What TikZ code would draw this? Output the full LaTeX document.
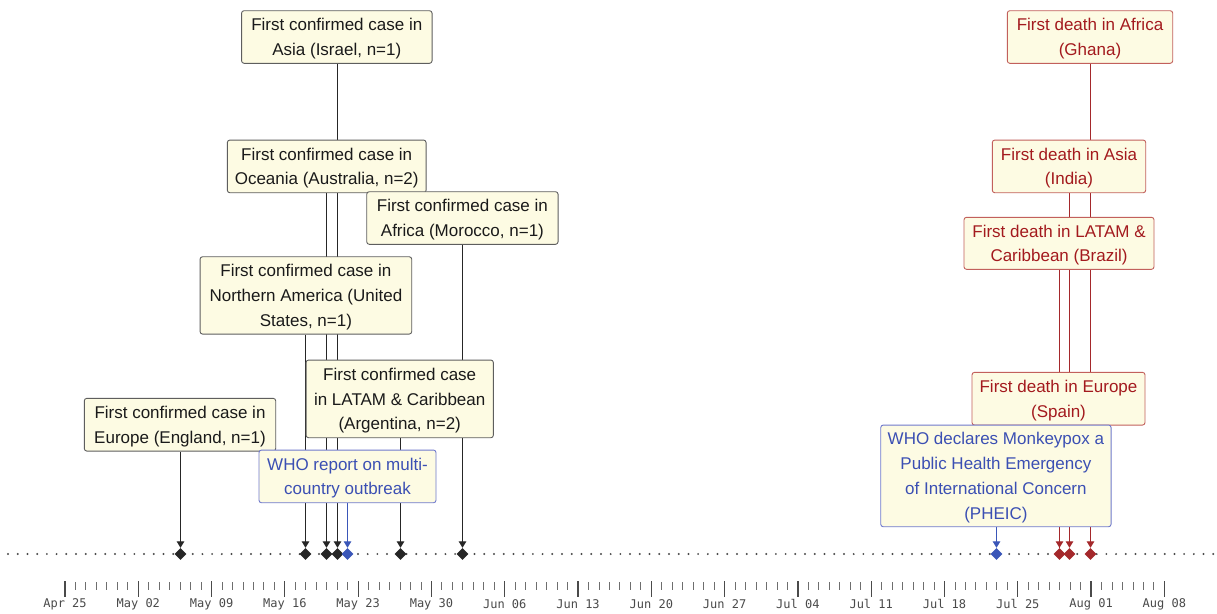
\documentclass[tikz,border=0pt]{standalone}
\usepackage{fontspec}
\setmainfont{Liberation Sans}
\setmonofont{DejaVu Sans Mono}
\usetikzlibrary{shapes.geometric,arrows.meta,backgrounds}
\definecolor{boxfill}{HTML}{FDFBE3}
\definecolor{gborder}{HTML}{5E5E5E}
\definecolor{rborder}{HTML}{C2605C}
\definecolor{bborder}{HTML}{6F79CC}
\definecolor{rtext}{HTML}{A31A1E}
\definecolor{btext}{HTML}{3B4FB3}
\definecolor{ktext}{HTML}{1A1A1A}
\definecolor{kline}{HTML}{262626}
\definecolor{rline}{HTML}{A4282B}
\definecolor{bline}{HTML}{3A56B8}
\definecolor{axgray}{HTML}{4A4A4A}
\newcommand\evtext[1]{\raisebox{-1.2pt}[\height][\depth]{\begin{tabular}{@{}c@{}}#1\end{tabular}}}
\tikzset{
  evbox/.style={draw=gborder, fill=boxfill, rounded corners=2.5pt, line width=0.9pt,
    inner sep=0pt, text=ktext, font=\fontsize{17}{24.8}\selectfont},
  redbox/.style={evbox, draw=rborder, text=rtext},
  bluebox/.style={evbox, draw=bborder, text=btext},
  dmd/.style={diamond, aspect=1, minimum size=12pt, inner sep=0pt, fill=kline},
  rdmd/.style={dmd, fill=rline},
  bdmd/.style={dmd, fill=bline},
  conn/.style={draw=kline, line width=1.3pt, -{Triangle[length=6.5pt,width=7.5pt]}},
  rconn/.style={conn, draw=rline, fill=rline, line width=1.2pt},
  bconn/.style={conn, draw=bline, fill=bline},
  rplain/.style={draw=rline, line width=1.2pt},
  dotaxis/.style={draw=axgray, line width=2.2pt, line cap=round, dash pattern=on 0pt off 9.72pt},
  minortick/.style={draw=axgray!80, line width=0.9pt},
  majortick/.style={draw=axgray, line width=1.2pt},
  datelbl/.style={font=\ttfamily\fontsize{12}{14}\selectfont, text=axgray, inner sep=0pt}
}
\begin{document}
\begin{tikzpicture}[x=1pt, y=-1pt]
\useasboundingbox (0,0) rectangle (1217,613);

% event diamonds (x ~ 65 + 10.47 * days after Apr 25, snapped to pixels)
\node[dmd]  (dEng) at (180.5,554) {};
\node[dmd]  (dUS)  at (305.5,554) {};
\node[dmd]  (dAus) at (326.5,554) {};
\node[dmd]  (dIsr) at (337.5,554) {};
\node[bdmd] (dWHO) at (347.5,554) {};
\node[dmd]  (dArg) at (400.5,554) {};
\node[dmd]  (dMor) at (462.5,554) {};
\node[bdmd] (dPHE) at (996.5,554) {};
\node[rdmd] (dBra) at (1059.5,554) {};
\node[rdmd] (dInd) at (1069.5,554) {};
\node[rdmd] (dGha) at (1090.5,554) {};

% boxes
\node[evbox, minimum width=190.5pt, minimum height=52.6pt] (bIsr) at (336.8,37)
  {\evtext{First confirmed case in\\Asia (Israel, n=1)}};
\node[evbox, minimum width=198.7pt, minimum height=52.7pt] (bAus) at (326.7,166.4)
  {\evtext{First confirmed case in\\Oceania (Australia, n=2)}};
\node[evbox, minimum width=191.3pt, minimum height=52.6pt] (bMor) at (462.4,218)
  {\evtext{First confirmed case in\\Africa (Morocco, n=1)}};
\node[evbox, minimum width=211.7pt, minimum height=77.3pt] (bUS) at (305.9,295.4)
  {\evtext{First confirmed case in\\Northern America (United\\States, n=1)}};
\node[evbox, minimum width=187.3pt, minimum height=77.7pt] (bArg) at (399.7,398.9)
  {\evtext{First confirmed case\\in LATAM \& Caribbean\\(Argentina, n=2)}};
\node[evbox, minimum width=191.4pt, minimum height=52.7pt] (bEng) at (180,424.7)
  {\evtext{First confirmed case in\\Europe (England, n=1)}};
\node[bluebox, minimum width=177pt, minimum height=52.7pt] (bWHO) at (347.5,476.4)
  {\evtext{WHO report on multi-\\country outbreak}};

\node[redbox, minimum width=165.4pt, minimum height=52.6pt] (bGha) at (1090,37)
  {\evtext{First death in Africa\\(Ghana)}};
\node[redbox, minimum width=153.4pt, minimum height=52.7pt] (bInd) at (1069,166.4)
  {\evtext{First death in Asia\\(India)}};
\node[redbox, minimum width=190pt, minimum height=52pt] (bBra) at (1059,243.3)
  {\evtext{First death in LATAM \&\\Caribbean (Brazil)}};
\node[redbox, minimum width=173pt, minimum height=52.7pt] (bSpa) at (1058.5,398.7)
  {\evtext{First death in Europe\\(Spain)}};
\node[bluebox, minimum width=230.3pt, minimum height=101.7pt] (bPHE) at (995.9,475.9)
  {\evtext{WHO declares Monkeypox a\\Public Health Emergency\\of International Concern\\(PHEIC)}};

% axis coordinates
\coordinate (axL) at (8,554);
\coordinate (axR) at (1214,554);

\begin{scope}[on background layer]
  \fill[white] (0,0) rectangle (1217,613);
  \draw[dotaxis] (axL) -- (axR);
  \draw[conn]  (bEng.south -| dEng) -- (dEng.north);
  \draw[conn]  (bUS.south  -| dUS)  -- (dUS.north);
  \draw[conn]  (bAus.south -| dAus) -- (dAus.north);
  \draw[conn]  (bIsr.south -| dIsr) -- (dIsr.north);
  \draw[bconn] (bWHO.south -| dWHO) -- (dWHO.north);
  \draw[conn]  (bArg.south -| dArg) -- (dArg.north);
  \draw[conn]  (bMor.south -| dMor) -- (dMor.north);
  \draw[bconn] (bPHE.south -| dPHE) -- (dPHE.north);
  \draw[rconn] (bBra.south -| dBra) -- (dBra.north);
  \draw[rplain] (bSpa.south -| dBra) -- (dBra.north);
  \draw[rconn] (bInd.south -| dInd) -- (dInd.north);
  \draw[rconn] (bGha.south -| dGha) -- (dGha.north);
\end{scope}

% date axis
\foreach \d in {0,...,105} {
  \draw[minortick] ({65+10.47*\d},582) -- ({65+10.47*\d},589.5);
}
\foreach \i/\lab in {0/Apr 25,1/May 02,2/May 09,3/May 16,4/May 23,5/May 30,6/Jun 06,7/Jun 13,
  8/Jun 20,9/Jun 27,10/Jul 04,11/Jul 11,12/Jul 18,13/Jul 25,14/Aug 01,15/Aug 08} {
  \draw[majortick] ({65+73.29*\i},581) -- ({65+73.29*\i},597);
  \node[datelbl] (lab\i) at ({65+73.29*\i},604) {\lab};
}
\end{tikzpicture}
\end{document}
